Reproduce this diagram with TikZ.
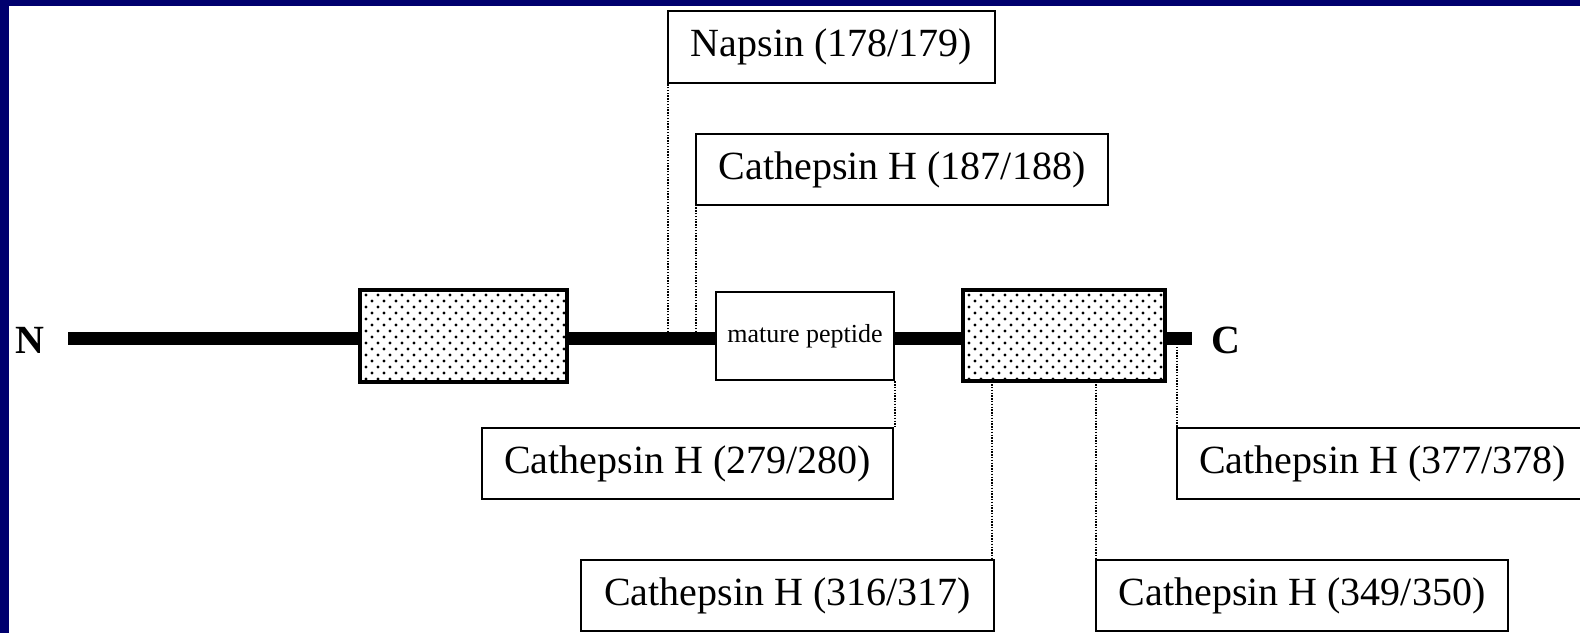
\documentclass[tikz,border=0pt]{standalone}
\usepackage{fontspec}
\setmainfont{Liberation Serif}
\definecolor{navy}{RGB}{0,0,110}
\begin{document}
\begin{tikzpicture}[x=0.5pt,y=-0.5pt,
  sz/.style 2 args={minimum width={#1*0.5pt},minimum height={#2*0.5pt}},
  lbl/.style={draw,line width=1.3pt,fill=white,inner sep=0pt,font=\fontsize{20}{24}\selectfont},
  seg/.style={draw,line width=1.3pt,fill=white,inner sep=0pt},
  backbone/.style={line width=6.5pt},
  cut/.style={line width=1pt,dash pattern=on 0.7pt off 0.7pt},
  term/.style={font=\fontsize{20}{24}\selectfont\bfseries}]
\useasboundingbox (0,0) rectangle (1580,633);
\clip (0,0) rectangle (1580,633);
\fill[navy] (0,0) rectangle (1580,633);
\fill[white] (9,6) rectangle (1580,633);
% termini
\node[term] (N) at (30,340) {N};
\node[term] (C) at (1226,340) {C};
\coordinate (bs) at (68,338);
\coordinate (be) at (1192,338);
\draw[backbone] (bs) -- (be);
% domains
\node[seg,sz={205}{90}] (lb) at (463.5,336) {};
\node[seg,sz={178}{88},font=\fontsize{13}{15}\selectfont] (mat) at (805,336) {mature peptide};
\node[seg,sz={200}{89}] (rb) at (1064,335.5) {};
\begin{scope}
\clip (lb.south west) rectangle (lb.north east);
\foreach \yy in {295,307,...,380} \foreach \xx in {366,378,...,565} \fill (\xx,\yy) circle[radius=0.8pt];
\foreach \yy in {301,313,...,380} \foreach \xx in {372,384,...,565} \fill (\xx,\yy) circle[radius=0.8pt];
\end{scope}
\begin{scope}
\clip (rb.south west) rectangle (rb.north east);
\foreach \yy in {295,307,...,380} \foreach \xx in {969,981,...,1164} \fill (\xx,\yy) circle[radius=0.8pt];
\foreach \yy in {301,313,...,380} \foreach \xx in {975,987,...,1164} \fill (\xx,\yy) circle[radius=0.8pt];
\end{scope}
\draw[line width=1.3pt] (lb.south west) rectangle (lb.north east);
\draw[line width=1.3pt] (rb.south west) rectangle (rb.north east);
% labels
\node[lbl,sz={327}{72}] (nap) at (831.5,47) {Napsin (178/179)};
\node[lbl,sz={412}{71}] (c187) at (902,169.5) {Cathepsin H (187/188)};
\node[lbl,sz={411}{71}] (c279) at (687.5,463.5) {Cathepsin H (279/280)};
\node[lbl,sz={413}{71}] (c316) at (787.5,595.5) {Cathepsin H (316/317)};
\node[lbl,sz={412}{71}] (c349) at (1302,595.5) {Cathepsin H (349/350)};
\node[lbl,sz={411}{71}] (c377) at (1382.5,463.5) {Cathepsin H (377/378)};
% cut sites
\coordinate (s178) at (668,332);
\coordinate (s187) at (696,332);
\coordinate (s377) at (1177,344);
\draw[cut] (s178) -- (s178 |- nap.west);
\draw[cut] (s187) -- (s187 |- c187.west);
\draw[cut] (mat.south east) -- (mat.south east |- c279.north);
\draw[cut] (rb.south west) ++(29,0) coordinate (s316) -- (s316 |- c316.north);
\draw[cut] (rb.south west) ++(133,0) coordinate (s349) -- (s349 |- c349.north);
\draw[cut] (s377) -- (s377 |- c377.north);
\end{tikzpicture}
\end{document}
